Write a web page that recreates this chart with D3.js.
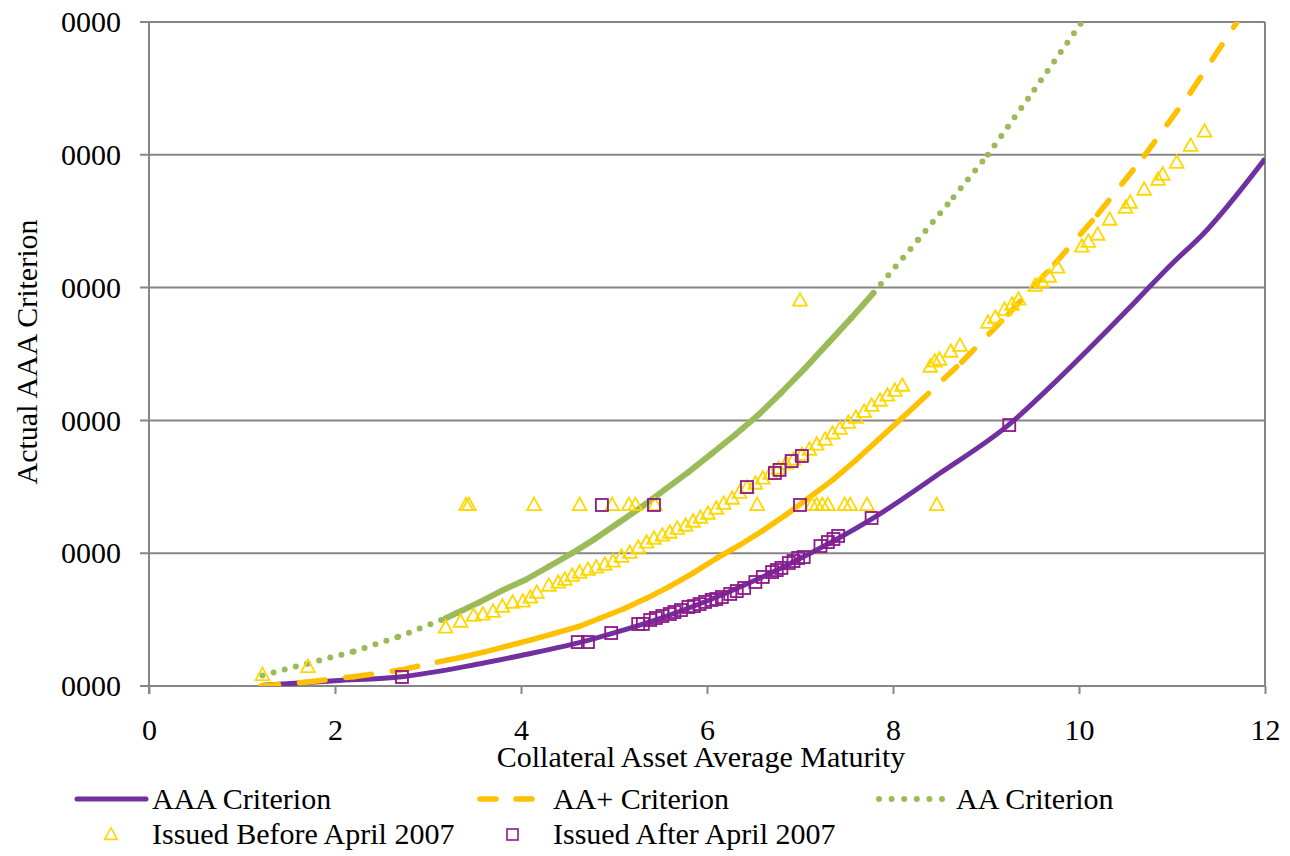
<!DOCTYPE html>
<html>
<head>
<meta charset="utf-8">
<script src="https://cdn.jsdelivr.net/npm/d3@7"></script>
<style>
  body { margin: 0; background: #fff; }
  text { font-family: "Liberation Serif", "DejaVu Serif", serif; fill: #000; }
</style>
</head>
<body>
<div id="chart"></div>
<script>
// tick values and labels
var xTicks = [0, 2, 4, 6, 8, 10, 12];
var yTicks = [0, 1, 2, 3, 4, 5];
var yTickLabels = ["0000", "0000", "0000", "0000", "0000", "0000"];

// criterion curves, [maturity, value]
var aaaCurve = [[1.22, 0.005], [2.0, 0.04], [2.72, 0.07], [3.5, 0.16], [4.0, 0.23], [4.7, 0.34],
  [5.0, 0.40], [5.5, 0.51], [6.0, 0.64], [6.5, 0.79], [7.0, 0.96], [7.8, 1.27], [8.5, 1.6],
  [9.25, 1.97], [9.7, 2.26], [10.15, 2.57], [10.6, 2.89], [11.0, 3.18], [11.33, 3.40], [12.0, 3.97]];

var aaPlusCurve = [[1.2, 0.0], [1.7, 0.03], [2.2, 0.07], [2.7, 0.12], [3.1, 0.18],
  [3.35, 0.215], [3.6, 0.255], [3.85, 0.30], [4.1, 0.345], [4.35, 0.395], [4.63, 0.45],
  [4.85, 0.51], [5.1, 0.58], [5.35, 0.66], [5.6, 0.75], [5.85, 0.85], [6.1, 0.96], [6.35, 1.06],
  [6.6, 1.17], [6.85, 1.29], [7.1, 1.42], [7.35, 1.55], [7.6, 1.70], [7.85, 1.86], [8.1, 2.02],
  [8.24, 2.11], [8.74, 2.44], [9.24, 2.80], [9.74, 3.18], [10.2, 3.55], [10.7, 3.99],
  [11.2, 4.47], [11.7, 5.0]];

var aaCurve = [[1.22, 0.08], [1.71, 0.17], [2.2, 0.26], [2.68, 0.37], [3.19, 0.51],
  [3.31, 0.55], [3.55, 0.63], [3.8, 0.72], [4.05, 0.80], [4.3, 0.90], [4.55, 1.0], [4.8, 1.11],
  [5.05, 1.23], [5.3, 1.35], [5.55, 1.48], [5.8, 1.61], [6.05, 1.75], [6.3, 1.89], [6.55, 2.04],
  [6.8, 2.21], [7.05, 2.39], [7.3, 2.58], [7.55, 2.77], [7.79, 2.96],
  [8.27, 3.36], [8.65, 3.68], [9.02, 4.0], [9.52, 4.49], [10.03, 5.0]];

// deals
var issuedBefore = [[1.22, 0.08], [1.71, 0.14],
  [3.19, 0.437], [3.35, 0.482], [3.49, 0.527], [3.59, 0.535], [3.70, 0.557], [3.80, 0.595],
  [3.91, 0.625], [4.02, 0.633], [4.10, 0.663], [4.17, 0.700], [4.30, 0.753], [4.40, 0.776],
  [4.47, 0.798], [4.55, 0.828], [4.63, 0.851], [4.72, 0.873], [4.81, 0.889], [4.90, 0.911],
  [4.99, 0.934], [5.08, 0.971], [5.17, 1.001], [5.26, 1.039], [5.35, 1.077], [5.43, 1.107],
  [5.52, 1.130], [5.60, 1.152], [5.68, 1.182], [5.77, 1.205], [5.85, 1.235], [5.93, 1.265],
  [6.01, 1.295], [6.10, 1.333], [6.18, 1.370], [6.27, 1.408], [6.35, 1.453], [6.43, 1.491],
  [6.52, 1.521], [6.60, 1.559], [6.68, 1.596], [6.77, 1.634], [6.85, 1.672], [6.93, 1.702],
  [7.02, 1.739], [7.10, 1.777], [7.18, 1.815], [7.27, 1.852], [7.35, 1.898], [7.43, 1.935],
  [7.52, 1.980], [7.60, 2.018], [7.69, 2.063], [7.77, 2.108], [7.86, 2.146], [7.94, 2.184],
  [8.02, 2.221], [8.10, 2.259], [8.40, 2.402], [8.45, 2.440], [8.50, 2.455], [8.62, 2.515],
  [8.72, 2.560], [9.02, 2.733], [9.10, 2.771], [9.20, 2.831], [9.28, 2.869], [9.35, 2.907],
  [9.53, 3.012], [9.60, 3.042], [9.68, 3.080], [9.77, 3.148], [10.03, 3.306], [10.10, 3.343],
  [10.20, 3.396], [10.33, 3.509], [10.50, 3.599], [10.55, 3.637], [10.70, 3.735], [10.85, 3.810],
  [10.90, 3.848], [11.05, 3.938], [11.20, 4.066], [11.35, 4.172],
  [3.41, 1.36], [3.44, 1.36], [4.14, 1.36], [4.63, 1.36], [4.98, 1.36], [5.16, 1.36],
  [5.23, 1.36], [5.44, 1.36], [6.54, 1.36], [7.13, 1.36], [7.18, 1.36], [7.24, 1.36],
  [7.30, 1.36], [7.48, 1.36], [7.54, 1.36], [7.72, 1.36], [8.47, 1.36], [7.00, 2.90]];

var issuedAfter = [[2.72, 0.068], [4.61, 0.331], [4.72, 0.331], [4.97, 0.399], [5.26, 0.467],
  [5.31, 0.467], [5.39, 0.497], [5.45, 0.512], [5.52, 0.527], [5.60, 0.542], [5.65, 0.557],
  [5.72, 0.572], [5.80, 0.595], [5.86, 0.602], [5.92, 0.617], [5.98, 0.633], [6.05, 0.648],
  [6.10, 0.655], [6.16, 0.670], [6.25, 0.693], [6.32, 0.715], [6.40, 0.738], [6.52, 0.783],
  [6.60, 0.821], [6.70, 0.858], [6.75, 0.873], [6.80, 0.889], [6.88, 0.926], [6.93, 0.941],
  [6.98, 0.964], [7.04, 0.971], [7.22, 1.054], [7.30, 1.084], [7.36, 1.107], [7.41, 1.130],
  [7.77, 1.265], [9.25, 1.965],
  [4.87, 1.363], [5.43, 1.363], [7.00, 1.363], [6.43, 1.498], [6.73, 1.604], [6.78, 1.627],
  [6.91, 1.694], [7.02, 1.732]];

var W = 1290, H = 856;
var margin = {top: 22, right: 25, bottom: 170, left: 149};
var width = W - margin.left - margin.right;
var height = H - margin.top - margin.bottom;

var purple = "#7030A0", orange = "#FFC000", green = "#9BBB59";
var triColor = "#FFD700", sqColor = "#8B1A8B", gridColor = "#868686";
var fontSize = 30;

var svg = d3.select("#chart").append("svg")
    .attr("width", W).attr("height", H);

var g = svg.append("g")
    .attr("transform", `translate(${margin.left},${margin.top})`);

var x = d3.scaleLinear().domain([0, 12]).range([0, width]);
var y = d3.scaleLinear().domain([0, 5]).range([height, 0]);

// gridlines
g.append("g").selectAll("line").data(yTicks).join("line")
    .attr("x1", -9).attr("x2", width)
    .attr("y1", d => y(d)).attr("y2", d => y(d))
    .attr("stroke", gridColor).attr("stroke-width", 2);

// left axis, right border
g.append("line").attr("x1", 0).attr("x2", 0).attr("y1", 0).attr("y2", height + 8)
    .attr("stroke", gridColor).attr("stroke-width", 2);
g.append("line").attr("x1", width).attr("x2", width).attr("y1", 0).attr("y2", height)
    .attr("stroke", gridColor).attr("stroke-width", 2);

// x ticks
var xAxis = d3.axisBottom(x).tickValues(xTicks).tickSize(8).tickPadding(25).tickFormat(d3.format("d"));
var xg = g.append("g").attr("transform", `translate(0,${height})`).call(xAxis);
xg.select(".domain").remove();
xg.selectAll(".tick line").attr("stroke", gridColor).attr("stroke-width", 2);
xg.selectAll(".tick text").attr("font-size", fontSize).attr("font-family", "Liberation Serif").attr("fill", "#000");

// y labels
var yAxis = d3.axisLeft(y).tickValues(yTicks).tickSize(0).tickPadding(28)
    .tickFormat((d, i) => yTickLabels[i]);
var yg = g.append("g").call(yAxis);
yg.select(".domain").remove();
yg.selectAll(".tick text").attr("font-size", fontSize).attr("font-family", "Liberation Serif").attr("fill", "#000");

// axis titles
svg.append("text").attr("x", margin.left + width / 2 - 6).attr("y", 767)
    .attr("text-anchor", "middle").attr("font-size", fontSize)
    .text("Collateral Asset Average Maturity");
svg.append("text").attr("transform", "translate(37,352) rotate(-90)")
    .attr("text-anchor", "middle").attr("font-size", fontSize)
    .text("Actual AAA Criterion");

g.append("clipPath").attr("id", "plotclip").append("rect")
    .attr("x", 0).attr("y", 0).attr("width", width).attr("height", height);
var plot = g.append("g").attr("clip-path", "url(#plotclip)");

// AAA solid
var line = d3.line().x(d => x(d[0])).y(d => y(d[1])).curve(d3.curveMonotoneX);
plot.append("path").datum(aaaCurve).attr("d", line)
    .attr("fill", "none").attr("stroke", purple).attr("stroke-width", 5);

// dashed curves: dash pattern restarts at each point, so closely spaced points read as solid
function segmented(data, color, w, dash) {
  plot.append("g").selectAll("line").data(d3.pairs(data)).join("line")
      .attr("x1", d => x(d[0][0])).attr("y1", d => y(d[0][1]))
      .attr("x2", d => x(d[1][0])).attr("y2", d => y(d[1][1]))
      .attr("stroke", color).attr("stroke-width", w).attr("stroke-linecap", "round")
      .attr("stroke-dasharray", d => (d[1][0] - d[0][0]) < 0.32 ? null : dash);
}
segmented(aaPlusCurve, orange, 5.5, "18,21");
segmented(aaCurve, green, 6, "0,11.5");

// markers
function triPath(cx, cy, s) {
  return `M${cx},${cy - s * 0.62}L${cx + s * 0.55},${cy + s * 0.38}L${cx - s * 0.55},${cy + s * 0.38}Z`;
}
plot.append("g").selectAll("path").data(issuedBefore).join("path")
    .attr("d", d => triPath(x(d[0]), y(d[1]), 12.5))
    .attr("fill", "none").attr("stroke", triColor).attr("stroke-width", 1.8);

plot.append("g").selectAll("rect").data(issuedAfter).join("rect")
    .attr("x", d => x(d[0]) - 6).attr("y", d => y(d[1]) - 6)
    .attr("width", 12).attr("height", 12)
    .attr("fill", "none").attr("stroke", sqColor).attr("stroke-width", 1.8);

// legend
var leg = svg.append("g");
leg.append("line").attr("x1", 77).attr("x2", 146).attr("y1", 799).attr("y2", 799)
    .attr("stroke", purple).attr("stroke-width", 5).attr("stroke-linecap", "round");
leg.append("line").attr("x1", 480).attr("x2", 534).attr("y1", 799).attr("y2", 799)
    .attr("stroke", orange).attr("stroke-width", 5.5).attr("stroke-linecap", "round")
    .attr("stroke-dasharray", "16,20");
leg.append("line").attr("x1", 879).attr("x2", 943).attr("y1", 799).attr("y2", 799)
    .attr("stroke", green).attr("stroke-width", 6).attr("stroke-linecap", "round")
    .attr("stroke-dasharray", "0,12.6");
leg.append("path").attr("d", triPath(111, 835, 11.5))
    .attr("fill", "none").attr("stroke", triColor).attr("stroke-width", 1.6);
leg.append("rect").attr("x", 507).attr("y", 829).attr("width", 11).attr("height", 11)
    .attr("fill", "none").attr("stroke", sqColor).attr("stroke-width", 1.6);

var legText = [["AAA Criterion", 152, 809], ["AA+ Criterion", 553, 809], ["AA Criterion", 956, 809],
  ["Issued Before April 2007", 152, 844], ["Issued After April 2007", 553, 844]];
leg.selectAll("text.lt").data(legText).join("text").attr("class", "lt")
    .attr("x", d => d[1]).attr("y", d => d[2]).attr("font-size", fontSize).text(d => d[0]);
</script>
</body>
</html>
